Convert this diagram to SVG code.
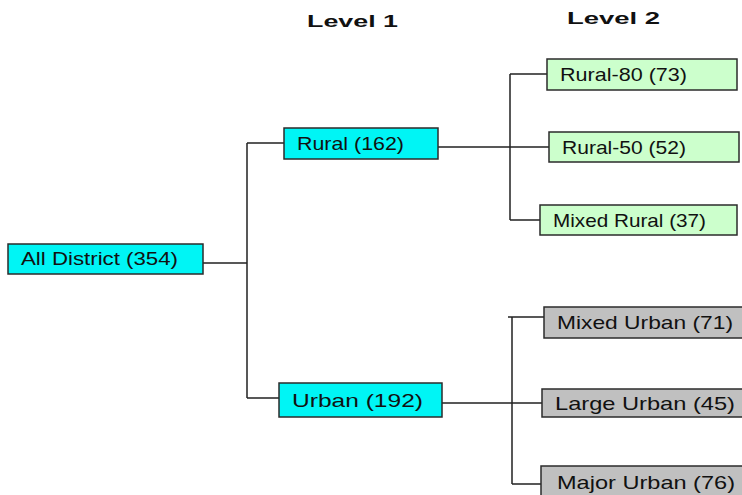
<svg xmlns="http://www.w3.org/2000/svg" width="742" height="495" viewBox="0 0 742 495">
<style>
.box{stroke:#2b2b2b;stroke-width:1.5}
.cyan{fill:#00f5f5}
.green{fill:#ccffcc}
.grey{fill:#c0c0c0}
.lbl{font-family:"Liberation Sans",Arial,sans-serif;font-size:19px;fill:#111}
.hdr{font-family:"Liberation Sans",Arial,sans-serif;font-size:17px;font-weight:bold;fill:#111}
.conn{stroke:#222;stroke-width:1.5;fill:none}
</style>
<rect width="742" height="495" fill="#ffffff"/>
<g id="headers">
<text class="hdr" x="307" y="27" textLength="91" lengthAdjust="spacingAndGlyphs">Level 1</text>
<text class="hdr" x="567" y="24" textLength="93" lengthAdjust="spacingAndGlyphs">Level 2</text>
</g>
<g id="connectors">
<path class="conn" d="M203,263 H247 M247,143 V398 M247,143 H284 M247,398 H279"/>
<path class="conn" d="M438,147 H549 M510,74 V220 M510,74 H547 M510,220 H540"/>
<path class="conn" d="M442,403 H542 M512,317 V484 M508,317 H544 M512,484 H541"/>
</g>
<g id="all-district">
<rect class="box cyan" x="8" y="244" width="195" height="30"/>
<text class="lbl" x="21" y="265" textLength="157" lengthAdjust="spacingAndGlyphs">All District (354)</text>
</g>
<g id="rural">
<rect class="box cyan" x="284" y="128" width="154" height="31"/>
<text class="lbl" x="297" y="150" textLength="107" lengthAdjust="spacingAndGlyphs">Rural (162)</text>
</g>
<g id="urban">
<rect class="box cyan" x="279" y="383" width="163" height="34"/>
<text class="lbl" x="292" y="407" textLength="131" lengthAdjust="spacingAndGlyphs">Urban (192)</text>
</g>
<g id="rural-80">
<rect class="box green" x="547" y="59" width="190" height="31"/>
<text class="lbl" x="560" y="81" textLength="127" lengthAdjust="spacingAndGlyphs">Rural-80 (73)</text>
</g>
<g id="rural-50">
<rect class="box green" x="549" y="132" width="190" height="30"/>
<text class="lbl" x="562" y="154" textLength="124" lengthAdjust="spacingAndGlyphs">Rural-50 (52)</text>
</g>
<g id="mixed-rural">
<rect class="box green" x="540" y="205" width="197" height="30"/>
<text class="lbl" x="553" y="227" textLength="153" lengthAdjust="spacingAndGlyphs">Mixed Rural (37)</text>
</g>
<g id="mixed-urban">
<rect class="box grey" x="544" y="307" width="210" height="31"/>
<text class="lbl" x="557" y="329" textLength="176" lengthAdjust="spacingAndGlyphs">Mixed Urban (71)</text>
</g>
<g id="large-urban">
<rect class="box grey" x="542" y="389" width="212" height="28"/>
<text class="lbl" x="555" y="410" textLength="180" lengthAdjust="spacingAndGlyphs">Large Urban (45)</text>
</g>
<g id="major-urban">
<rect class="box grey" x="541" y="466" width="213" height="40"/>
<text class="lbl" x="557" y="489" textLength="178" lengthAdjust="spacingAndGlyphs">Major Urban (76)</text>
</g>
</svg>
